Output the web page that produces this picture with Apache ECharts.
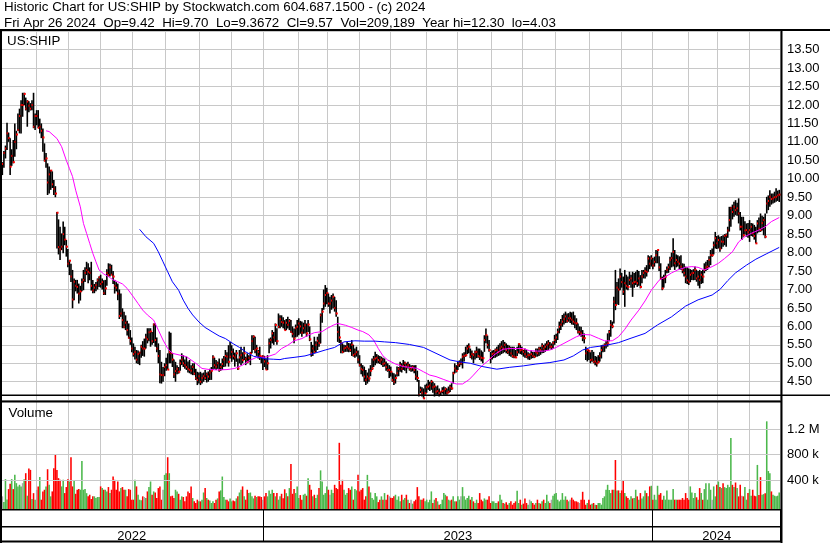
<!DOCTYPE html>
<html><head><meta charset="utf-8">
<script src="https://cdn.jsdelivr.net/npm/echarts@6/dist/echarts.min.js"></script>
<style>html,body{margin:0;padding:0;background:#fff;}#c{width:830px;height:543px;}</style>
</head><body><div id="c"></div>
<script>
// ---------------- data ----------------
const headerLine1 = 'Historic Chart for US:SHIP by Stockwatch.com 604.687.1500 - (c) 2024';
const headerLine2 = 'Fri Apr 26 2024  Op=9.42  Hi=9.70  Lo=9.3672  Cl=9.57  Vol=209,189  Year hi=12.30  lo=4.03';
const symbolLabel = 'US:SHIP';
const volumeLabel = 'Volume';

const highs = [
10.45,10.75,10.90,11.52,11.25,11.10,10.80,11.05,11.50,11.30,
11.77,11.90,12.13,12.33,12.33,12.20,12.13,12.10,12.05,12.13,
12.33,11.77,11.86,11.86,11.63,11.50,11.36,10.96,10.70,10.42,
10.33,10.24,10.20,9.97,9.80,9.10,8.90,8.70,8.52,8.84,
8.70,8.34,8.10,7.80,7.70,7.53,7.30,7.26,7.26,7.16,
7.10,7.30,7.53,7.60,7.75,7.71,7.60,7.75,7.26,7.15,
7.20,7.30,7.35,7.40,7.30,7.25,7.26,7.55,7.71,7.70,
7.67,7.50,7.26,7.20,7.16,7.00,6.89,6.49,6.40,6.30,
6.15,6.08,5.90,5.70,5.54,5.45,5.36,5.35,5.31,5.50,
5.60,5.67,5.80,5.95,5.95,5.95,5.85,6.08,6.08,5.70,
5.54,5.36,5.04,4.90,5.00,5.15,5.27,5.86,5.83,5.27,
5.10,5.04,4.95,4.90,5.10,5.27,5.22,5.10,5.18,5.05,
5.09,4.95,5.00,5.00,4.85,4.77,4.75,4.77,4.73,4.75,
4.82,4.75,4.78,4.85,4.90,5.22,5.15,5.09,5.05,5.13,
5.00,5.13,5.20,5.36,5.30,5.49,5.58,5.49,5.40,5.29,
5.36,5.13,5.36,5.45,5.30,5.45,5.18,5.27,5.22,5.31,
5.76,5.76,5.72,5.50,5.36,5.45,5.18,5.22,5.20,5.13,
5.22,5.67,5.70,5.90,5.85,6.08,5.95,6.35,6.30,6.30,
6.25,6.17,6.20,6.26,6.20,6.17,6.00,5.94,6.05,6.17,
6.22,6.15,6.13,6.10,6.17,6.08,6.17,6.00,5.58,5.50,
5.72,5.60,5.72,5.80,6.35,6.50,7.00,7.12,7.05,6.89,
6.80,6.85,6.89,6.80,6.71,6.26,6.00,5.63,5.54,5.50,
5.49,5.58,5.55,5.54,5.63,5.50,5.40,5.45,5.35,5.22,
5.00,4.95,4.91,4.82,4.75,4.86,4.95,5.13,5.20,5.31,
5.25,5.22,5.20,5.18,5.15,5.13,5.05,5.00,4.95,4.91,
4.75,4.73,4.70,4.91,4.90,5.04,5.00,5.09,5.05,5.00,
5.04,4.98,4.95,4.95,4.95,4.95,4.80,4.55,4.37,4.35,
4.32,4.42,4.45,4.55,4.50,4.55,4.50,4.46,4.37,4.40,
4.32,4.23,4.35,4.37,4.35,4.32,4.37,4.42,4.46,4.77,
5.00,4.95,5.04,5.08,5.13,5.27,5.30,5.45,5.50,5.54,
5.40,5.35,5.27,5.35,5.45,5.40,5.40,5.35,5.31,5.76,
5.94,5.75,5.63,5.31,5.35,5.36,5.40,5.45,5.50,5.54,
5.60,5.63,5.58,5.54,5.50,5.48,5.45,5.45,5.45,5.36,
5.45,5.54,5.50,5.45,5.36,5.40,5.36,5.30,5.27,5.35,
5.31,5.31,5.40,5.40,5.45,5.45,5.54,5.50,5.54,5.60,
5.63,5.58,5.54,5.60,5.77,5.80,5.94,6.13,6.20,6.31,
6.35,6.40,6.35,6.36,6.40,6.38,6.40,6.30,6.22,6.08,
6.00,5.99,5.90,5.81,5.45,5.40,5.36,5.30,5.36,5.31,
5.20,5.18,5.22,5.30,5.49,5.50,5.54,5.60,5.81,5.90,
6.17,6.13,6.80,7.53,7.20,7.30,7.57,7.45,7.35,7.53,
7.40,7.35,7.48,7.40,7.48,7.45,7.48,7.53,7.50,7.39,
7.53,7.53,7.60,7.66,7.93,7.90,7.93,7.85,7.89,8.07,
8.07,7.90,7.71,7.35,7.40,7.53,7.62,7.70,7.89,8.00,
8.39,8.07,7.95,7.93,7.90,7.93,7.71,7.70,7.62,7.60,
7.57,7.55,7.53,7.55,7.62,7.53,7.50,7.53,7.50,7.53,
7.71,7.75,7.80,7.90,8.07,8.11,8.30,8.56,8.45,8.47,
8.43,8.45,8.47,8.50,8.52,8.70,9.24,9.24,9.30,9.38,
9.42,9.35,9.47,9.10,8.97,8.97,8.85,8.79,8.80,8.88,
8.80,8.79,8.75,8.70,8.88,8.95,9.06,9.00,8.97,9.06,
9.51,9.55,9.69,9.60,9.60,9.65,9.74,9.68,9.70
];
const lows = [
10.10,10.30,10.55,10.78,11.00,10.10,10.35,10.42,10.60,10.80,
11.30,11.23,11.23,11.68,12.00,11.85,11.41,11.80,11.85,11.86,
11.37,11.32,11.45,11.37,11.23,11.10,10.73,10.47,10.30,9.56,
9.60,9.70,9.75,9.56,9.50,8.11,7.95,7.80,8.07,7.98,
8.20,7.89,7.60,7.39,7.20,6.49,6.71,6.95,6.89,6.62,
6.70,6.95,6.98,7.20,7.39,7.17,7.25,6.97,6.90,6.90,
6.95,7.00,7.07,7.05,7.00,6.85,6.85,7.10,7.35,7.35,
7.40,7.15,6.89,6.95,6.71,6.20,6.26,5.95,5.95,5.90,
5.75,5.67,5.50,5.30,5.18,5.10,5.00,4.98,4.95,5.15,
5.20,5.18,5.40,5.54,5.60,5.45,5.50,5.55,5.45,5.30,
5.00,4.46,4.45,4.50,4.65,4.80,4.83,5.00,5.00,4.90,
4.60,4.50,4.70,4.72,4.80,4.95,4.90,4.85,4.82,4.75,
4.73,4.70,4.68,4.68,4.55,4.41,4.45,4.41,4.45,4.50,
4.55,4.48,4.50,4.55,4.55,4.82,4.85,4.82,4.85,4.77,
4.80,4.82,4.90,4.91,5.00,4.91,5.13,5.04,5.10,4.91,
5.04,4.82,5.00,4.95,5.00,5.09,4.95,5.00,5.04,4.95,
5.27,5.36,5.27,5.20,5.13,5.09,5.00,4.82,4.90,4.83,
4.82,5.27,5.40,5.54,5.50,5.58,5.50,5.95,5.95,5.99,
5.95,5.90,5.90,5.94,5.90,5.83,5.70,5.54,5.70,5.72,
5.76,5.80,5.72,5.80,5.81,5.72,5.85,5.60,5.18,5.20,
5.27,5.30,5.36,5.45,5.54,6.10,6.45,6.53,6.60,6.53,
6.35,6.45,6.49,6.40,6.26,5.58,5.55,5.27,5.27,5.30,
5.31,5.31,5.30,5.31,5.20,5.18,5.15,5.18,5.00,4.91,
4.70,4.64,4.50,4.41,4.45,4.50,4.65,4.82,4.90,4.95,
5.00,5.00,4.98,4.95,4.90,4.91,4.80,4.77,4.60,4.64,
4.50,4.41,4.45,4.64,4.65,4.77,4.75,4.82,4.80,4.73,
4.86,4.80,4.77,4.78,4.73,4.55,4.50,4.10,4.19,4.10,
4.05,4.15,4.20,4.28,4.25,4.28,4.20,4.10,4.15,4.15,
4.10,4.12,4.18,4.15,4.15,4.15,4.19,4.22,4.28,4.45,
4.73,4.75,4.82,4.90,4.95,4.86,5.05,5.18,5.25,5.27,
5.14,5.10,5.00,5.10,5.14,5.15,5.09,5.05,5.00,5.31,
5.54,5.40,5.31,5.00,5.10,5.14,5.15,5.18,5.20,5.22,
5.25,5.27,5.30,5.27,5.25,5.20,5.18,5.15,5.14,5.14,
5.20,5.27,5.25,5.23,5.18,5.15,5.14,5.10,5.09,5.12,
5.14,5.14,5.18,5.18,5.20,5.23,5.27,5.28,5.31,5.35,
5.36,5.40,5.36,5.40,5.50,5.55,5.63,5.81,5.90,5.99,
6.05,6.09,6.10,6.13,6.09,6.05,6.04,5.95,5.90,5.81,
5.75,5.72,5.60,5.54,5.09,5.05,5.09,5.00,5.04,5.00,
4.95,4.91,5.00,5.05,5.13,5.30,5.31,5.40,5.45,5.60,
5.72,5.95,6.08,6.44,6.60,6.58,6.98,7.05,6.85,6.53,
7.00,6.98,7.12,7.05,6.80,7.05,7.12,7.07,7.10,7.03,
7.17,7.30,7.30,7.35,7.48,7.55,7.62,7.55,7.62,7.71,
7.71,7.50,7.26,6.98,7.05,7.17,7.44,7.45,7.53,7.60,
7.62,7.53,7.60,7.62,7.55,7.53,7.44,7.35,7.17,7.15,
7.12,7.20,7.26,7.25,7.26,7.21,7.10,7.03,7.15,7.17,
7.44,7.50,7.53,7.60,7.66,7.89,7.95,8.11,8.10,8.11,
8.02,8.10,8.16,8.20,8.16,8.40,8.57,8.70,8.90,8.97,
9.02,9.00,8.79,8.60,8.34,8.43,8.50,8.43,8.40,8.29,
8.45,8.43,8.35,8.25,8.52,8.55,8.56,8.60,8.47,8.39,
9.06,9.15,9.24,9.30,9.33,9.35,9.38,9.40,9.37
];
const closes = [
10.40,10.70,10.82,11.23,11.10,10.33,10.62,10.45,11.00,11.20,
11.32,11.70,12.00,12.00,12.30,11.90,12.09,11.98,11.90,12.00,
11.41,11.70,11.70,11.38,11.41,11.30,11.12,10.49,10.55,9.90,
10.12,10.22,9.85,9.73,9.60,9.08,8.15,8.09,8.16,8.50,
8.35,8.16,7.70,7.78,7.35,6.73,7.21,7.10,7.07,6.89,
6.95,7.20,7.26,7.45,7.53,7.48,7.45,7.10,6.97,7.05,
7.12,7.25,7.33,7.15,7.20,6.90,7.03,7.45,7.39,7.60,
7.40,7.35,7.10,7.05,6.89,6.28,6.35,6.17,5.99,6.10,
5.90,5.69,5.60,5.40,5.25,5.30,5.10,5.25,5.29,5.45,
5.40,5.40,5.70,5.65,5.84,5.86,5.60,6.05,5.63,5.40,
5.20,4.70,4.68,4.68,4.90,4.95,4.83,5.30,5.27,5.10,
4.70,4.79,4.85,4.77,5.00,5.10,5.00,4.95,4.90,4.85,
4.82,4.80,4.90,4.72,4.60,4.55,4.65,4.50,4.60,4.65,
4.60,4.70,4.64,4.75,4.80,5.16,4.95,4.91,5.00,4.82,
4.90,4.98,5.10,5.20,5.18,5.04,5.18,5.31,5.20,5.16,
5.27,4.86,5.16,5.22,5.09,5.27,5.12,5.04,5.15,5.27,
5.60,5.72,5.36,5.40,5.31,5.20,5.18,5.18,5.05,4.83,
5.00,5.54,5.63,5.81,5.70,6.04,5.60,5.99,6.20,6.12,
6.10,5.90,6.10,6.04,6.15,5.85,5.80,5.67,5.95,5.99,
6.08,6.00,5.83,5.95,6.03,5.81,6.05,5.65,5.27,5.40,
5.31,5.50,5.61,5.55,6.30,6.40,6.62,6.85,6.90,6.62,
6.62,6.70,6.80,6.50,6.35,5.85,5.70,5.54,5.31,5.40,
5.42,5.45,5.40,5.36,5.50,5.22,5.25,5.30,5.10,4.95,
4.85,4.82,4.64,4.55,4.64,4.59,4.80,4.86,5.10,5.13,
5.15,5.09,5.05,5.10,4.98,5.00,4.90,4.82,4.82,4.77,
4.55,4.50,4.60,4.73,4.85,4.95,4.85,4.93,5.00,4.91,
4.95,4.86,4.86,4.90,4.82,4.64,4.60,4.14,4.28,4.20,
4.05,4.19,4.35,4.37,4.40,4.50,4.35,4.37,4.23,4.25,
4.19,4.23,4.25,4.26,4.30,4.20,4.23,4.35,4.32,4.73,
4.86,4.80,4.95,5.00,5.00,5.18,5.20,5.22,5.40,5.45,
5.18,5.25,5.22,5.30,5.31,5.20,5.18,5.15,5.14,5.63,
5.76,5.50,5.36,5.14,5.25,5.27,5.35,5.36,5.30,5.40,
5.45,5.40,5.50,5.36,5.30,5.40,5.27,5.20,5.18,5.16,
5.30,5.52,5.35,5.36,5.31,5.25,5.18,5.22,5.22,5.25,
5.20,5.18,5.30,5.27,5.40,5.36,5.47,5.40,5.45,5.50,
5.54,5.45,5.45,5.55,5.63,5.70,5.85,5.99,6.05,6.13,
6.20,6.27,6.15,6.22,6.22,6.18,6.13,6.10,6.08,5.85,
5.85,5.81,5.70,5.68,5.27,5.36,5.33,5.09,5.10,5.04,
5.05,5.00,5.04,5.20,5.36,5.45,5.49,5.50,5.54,5.85,
6.04,6.00,6.67,6.58,7.05,7.00,7.35,7.20,6.94,7.17,
7.10,7.07,7.26,7.30,7.17,7.20,7.21,7.17,7.30,7.07,
7.35,7.45,7.50,7.48,7.84,7.70,7.84,7.65,7.75,7.93,
8.07,7.60,7.30,7.03,7.30,7.35,7.53,7.60,7.80,7.85,
8.02,7.71,7.80,7.75,7.70,7.62,7.53,7.45,7.35,7.25,
7.21,7.40,7.44,7.45,7.53,7.30,7.35,7.26,7.40,7.35,
7.53,7.60,7.62,7.80,7.93,7.93,8.20,8.39,8.25,8.34,
8.11,8.30,8.29,8.45,8.47,8.60,8.88,9.20,9.10,9.24,
9.15,9.20,9.06,8.70,8.70,8.47,8.60,8.61,8.55,8.61,
8.70,8.52,8.45,8.25,8.79,8.65,8.61,8.80,8.88,8.43,
9.33,9.40,9.51,9.45,9.47,9.50,9.51,9.55,9.57
];
// daily volume, thousands of shares
const volumes = [
150,60,418,100,263,345,418,263,485,356,
305,330,305,356,418,511,160,583,563,108,
200,98,250,305,450,98,227,253,305,573,
330,150,227,590,810,560,434,408,305,408,
201,295,418,382,759,305,397,190,253,263,
253,700,253,263,200,150,175,108,150,150,
124,140,140,305,279,253,253,227,295,201,
253,459,408,253,382,227,279,295,253,253,
150,263,253,98,98,408,305,175,98,88,
150,140,124,227,295,382,175,227,210,124,
279,305,98,253,485,511,760,511,150,160,
124,253,227,190,98,150,140,72,150,227,
201,305,124,72,46,98,72,72,98,210,
279,124,98,85,46,72,46,98,118,227,
243,459,140,98,98,72,118,72,85,72,
118,150,210,253,305,150,98,253,201,210,
150,118,160,140,150,150,140,98,150,201,
150,243,190,253,201,150,201,98,150,190,
120,260,200,150,279,655,190,263,201,305,
124,170,98,175,190,160,434,330,253,150,
175,124,175,279,555,382,175,201,305,253,
175,253,201,330,279,263,985,330,408,253,
175,201,279,253,305,98,263,243,485,227,
253,279,98,150,485,305,211,124,98,201,
150,60,98,150,98,201,98,175,150,130,
124,150,175,98,150,72,175,98,124,175,
98,46,98,36,72,98,294,150,98,98,
118,72,98,56,98,227,46,98,124,72,
20,30,98,201,175,150,98,85,98,150,
72,72,150,98,150,294,150,98,124,160,
98,140,72,46,98,46,201,98,72,118,
98,98,150,46,72,72,46,46,72,175,
98,46,36,56,20,46,72,20,46,72,
237,46,98,20,36,118,46,20,98,72,
46,20,46,98,46,36,72,98,46,175,
72,46,98,160,190,201,98,72,98,201,
98,150,98,72,98,130,98,72,72,56,
46,98,221,98,20,46,98,20,36,46,
20,15,46,46,20,124,150,253,330,250,
201,253,253,717,243,243,201,243,392,201,
150,124,98,150,118,124,253,150,98,201,
118,150,243,201,150,305,315,98,175,98,
315,175,201,98,160,98,243,98,98,98,
263,98,98,98,98,98,124,98,201,124,
98,305,211,124,201,135,98,279,201,98,
263,356,98,356,253,98,305,150,330,382,
294,279,356,294,279,330,294,1060,330,294,
366,279,150,330,160,150,294,98,201,263,
160,253,160,150,640,170,450,175,185,200,
1320,545,511,227,175,160,150,160,209
];
// moving averages: [bar index, value]
const maFast = [[28,11.30],[30,11.28],[35,11.09],[38,10.87],[41,10.50],[43,10.28],[45,10.06],[47,9.69],[50,9.24],[52,8.79],[54,8.52],[56,8.25],[58,7.98],[60,7.75],[62,7.53],[65,7.42],[68,7.35],[71,7.26],[74,7.21],[77,7.15],[80,7.03],[84,6.80],[87,6.62],[90,6.44],[93,6.31],[97,6.17],[100,5.90],[103,5.63],[106,5.40],[109,5.27],[114,5.22],[118,5.18],[121,5.09],[124,5.00],[128,4.86],[133,4.83],[138,4.82],[144,4.83],[149,4.86],[154,4.95],[159,5.09],[163,5.16],[167,5.16],[170,5.18],[175,5.25],[179,5.40],[183,5.49],[187,5.61],[192,5.67],[196,5.76],[200,5.83],[205,5.86],[208,5.94],[212,6.03],[215,6.08],[220,6.03],[224,5.97],[228,5.90],[231,5.86],[235,5.77],[238,5.63],[241,5.40],[244,5.20],[247,5.09],[252,4.98],[257,4.91],[261,4.89],[266,4.86],[270,4.77],[274,4.68],[278,4.64],[283,4.56],[287,4.50],[291,4.44],[295,4.44],[299,4.55],[302,4.68],[305,4.82],[308,4.95],[312,5.09],[315,5.22],[318,5.31],[321,5.38],[325,5.40],[330,5.40],[334,5.40],[338,5.34],[343,5.33],[347,5.33],[351,5.36],[355,5.43],[360,5.54],[364,5.63],[368,5.72],[372,5.78],[377,5.77],[382,5.68],[386,5.61],[391,5.61],[395,5.72],[399,5.92],[403,6.17],[408,6.44],[412,6.69],[416,6.98],[421,7.25],[425,7.34],[429,7.45],[433,7.53],[438,7.60],[442,7.62],[446,7.60],[450,7.53],[455,7.62],[459,7.71],[463,7.84],[468,8.02],[472,8.29],[476,8.43],[480,8.52],[485,8.61],[489,8.70],[493,8.84],[498,8.95]];
const maSlow = [[88,8.63],[92,8.43],[97,8.25],[100,8.02],[103,7.75],[106,7.48],[109,7.21],[113,6.98],[116,6.71],[119,6.49],[122,6.31],[126,6.12],[130,5.97],[135,5.84],[139,5.74],[143,5.67],[148,5.53],[152,5.43],[156,5.31],[161,5.19],[165,5.16],[169,5.12],[174,5.11],[178,5.10],[181,5.13],[187,5.16],[194,5.20],[200,5.27],[207,5.36],[213,5.43],[219,5.58],[226,5.61],[232,5.60],[239,5.60],[245,5.58],[252,5.56],[261,5.51],[270,5.43],[278,5.27],[287,5.09],[293,5.04],[300,5.00],[308,4.91],[317,4.84],[325,4.89],[334,4.93],[342,4.98],[351,5.02],[360,5.09],[366,5.20],[372,5.36],[377,5.43],[386,5.48],[395,5.56],[403,5.68],[412,5.81],[420,6.04],[429,6.26],[438,6.55],[446,6.72],[455,6.85],[460,7.00],[465,7.24],[470,7.45],[477,7.66],[483,7.82],[490,7.97],[498,8.14]];

// axis / tick data
const volTicks = [400000, 800000, 1200000];
const volTickLabels = ['400 k', '800 k', '1.2 M'];
const monthStarts = [23,44,64,85,106,128,148,169,191,210,230,250,273,293,315,335,356,378,398,418,441,460,480]; // category index of each month's first bar
const yearStarts = [169, 418];
const yearLabelAt = [84, 293, 459];
const yearLabels = ['2022', '2023', '2024'];

// ---------------- chart ----------------
const FONT = '"Liberation Sans", Arial, sans-serif';
const OFFSET = 1;                       // one empty slot before the first bar
const NCAT = highs.length + OFFSET;     // categories = bar slots
const cats = Array.from({length: NCAT}, (_, k) => String(k));
const VOL_MIN = -52000, VOL_MAX = 1637000;
const GRID_GRAY = '#c8c8c8';
const monthSet = new Set(monthStarts);
const yearSet = new Set(yearStarts);
const yearLabelMap = new Map(yearLabelAt.map((c, k) => [c, yearLabels[k]]));

const priceData = highs.map((h, i) => [i + OFFSET, h, lows[i], closes[i]]);
const volData = volumes.map((v, i) => {
  const d = i === 0 ? 0 : Math.sign(closes[i] - closes[i - 1]);
  return [i + OFFSET, v * 1000, d];
});

const chart = echarts.init(document.getElementById('c'), null, {renderer: 'canvas'});

const baseX = (gridIndex, splitFn, color) => ({
  type: 'category', gridIndex, data: cats, boundaryGap: true,
  axisLine: {show: false}, axisTick: {show: false}, axisLabel: {show: false},
  splitLine: {show: true, interval: splitFn, lineStyle: {color, width: 1}}
});
const txt = {fontFamily: FONT, fontSize: 13.33, fontWeight: 'normal', color: '#000'};

chart.setOption({
  animation: false,
  backgroundColor: '#fff',
  title: [
    {text: headerLine1 + '\n' + headerLine2, left: 4, top: 0, padding: 0,
     textStyle: Object.assign({lineHeight: 15.5}, txt)},
    {text: symbolLabel, left: 7, top: 34, padding: 0, textStyle: Object.assign({lineHeight: 15.5}, txt)},
    {text: volumeLabel, left: 8.5, top: 405.5, padding: 0, textStyle: Object.assign({lineHeight: 15.5}, txt)}
  ],
  grid: [
    {left: 0, top: 31.15, width: 780, height: 369.05},
    {left: 0, top: 401, width: 780, height: 108.3},
    {left: 0, top: 509.5, width: 780, height: 32}
  ],
  xAxis: [
    baseX(0, (idx) => monthSet.has(idx), GRID_GRAY),
    baseX(1, (idx) => monthSet.has(idx), GRID_GRAY),
    Object.assign(baseX(2, (idx) => yearSet.has(idx), '#000'), {
      axisLabel: {show: true, inside: true, margin: 5.5, verticalAlign: 'middle',
        interval: (idx) => yearLabelMap.has(idx),
        formatter: (v, idx) => yearLabelMap.get(idx) || '',
        fontFamily: FONT, fontSize: 13, color: '#000'}
    })
  ],
  yAxis: [
    {type: 'value', gridIndex: 0, position: 'right', min: 4, max: 14, interval: 0.5,
     axisLine: {show: false}, axisTick: {show: false},
     splitLine: {show: true, lineStyle: {color: GRID_GRAY, width: 1}},
     axisLabel: {formatter: (v) => v.toFixed(2), margin: 7, showMinLabel: false, showMaxLabel: false,
       fontFamily: FONT, fontSize: 13, color: '#000'}},
    {type: 'value', gridIndex: 1, position: 'right', min: VOL_MIN, max: VOL_MAX,
     axisLine: {show: false}, axisTick: {show: false}, axisLabel: {show: false}, splitLine: {show: false}},
    {type: 'value', gridIndex: 2, min: 0, max: 1, show: false}
  ],
  series: [
    {type: 'line', xAxisIndex: 1, yAxisIndex: 1, data: [], silent: true, z: 1,
     markLine: {silent: true, symbol: ['none', 'none'], animation: false,
       lineStyle: {color: GRID_GRAY, type: 'solid', width: 1},
       label: {show: true, position: 'end', distance: 7, fontFamily: FONT, fontSize: 13, color: '#000',
         formatter: (p) => volTickLabels[volTicks.indexOf(p.value)]},
       emphasis: {disabled: true},
       data: volTicks.map((v) => ({yAxis: v}))}},
    {type: 'custom', name: 'volume', xAxisIndex: 1, yAxisIndex: 1, z: 3,
     data: volData, encode: {x: 0, y: 1},
     renderItem: (params, api) => {
       const c = api.value(0);
       const top = api.coord([c, api.value(1)]);
       const base = api.coord([c, VOL_MIN]);
       const w = api.size([1, 0])[0];
       const d = api.value(2);
       const fill = d > 0 ? '#4cb84c' : (d < 0 ? '#ff0000' : '#a8a8a8');
       return {type: 'rect', shape: {x: top[0] - w / 2, y: top[1], width: w, height: base[1] - top[1]},
               style: {fill}};
     }},
    {type: 'custom', name: 'price', xAxisIndex: 0, yAxisIndex: 0, z: 3,
     data: priceData, encode: {x: 0, y: [1, 2, 3]},
     renderItem: (params, api) => {
       const c = api.value(0);
       const hi = api.coord([c, api.value(1)]);
       const lo = api.coord([c, api.value(2)]);
       const cl = api.coord([c, api.value(3)]);
       return {type: 'group', children: [
         {type: 'rect', shape: {x: hi[0] - 0.8, y: hi[1], width: 1.6, height: Math.max(lo[1] - hi[1], 1)}, style: {fill: '#000'}},
         {type: 'rect', shape: {x: cl[0] - 0.4, y: cl[1] - 1, width: 2, height: 2}, style: {fill: '#ff0000'}}
       ]};
     }},
    {type: 'line', name: 'fast', xAxisIndex: 0, yAxisIndex: 0, z: 4, showSymbol: false, symbol: 'none',
     data: maFast.map(([i, v]) => [i + OFFSET, v]), lineStyle: {color: '#ff00ff', width: 1}},
    {type: 'line', name: 'slow', xAxisIndex: 0, yAxisIndex: 0, z: 4, showSymbol: false, symbol: 'none',
     data: maSlow.map(([i, v]) => [i + OFFSET, v]), lineStyle: {color: '#0000ff', width: 1}}
  ],
  graphic: [
    {type: 'rect', shape: {x: 0, y: 29, width: 830, height: 2}, style: {fill: '#000'}, z: 10},
    {type: 'rect', shape: {x: 0, y: 29, width: 2, height: 514}, style: {fill: '#000'}, z: 10},
    {type: 'rect', shape: {x: 780.5, y: 29, width: 2, height: 514}, style: {fill: '#000'}, z: 10},
    {type: 'rect', shape: {x: 0, y: 394.5, width: 830, height: 1.5}, style: {fill: '#000'}, z: 10},
    {type: 'rect', shape: {x: 0, y: 400.5, width: 781, height: 2}, style: {fill: '#000'}, z: 10},
    {type: 'rect', shape: {x: 0, y: 509, width: 781, height: 1.5}, style: {fill: '#000'}, z: 10},
    {type: 'rect', shape: {x: 0, y: 526, width: 781, height: 1.5}, style: {fill: '#000'}, z: 10},
    {type: 'rect', shape: {x: 0, y: 540.5, width: 781, height: 2}, style: {fill: '#000'}, z: 10}
  ]
});
</script>
</body></html>
